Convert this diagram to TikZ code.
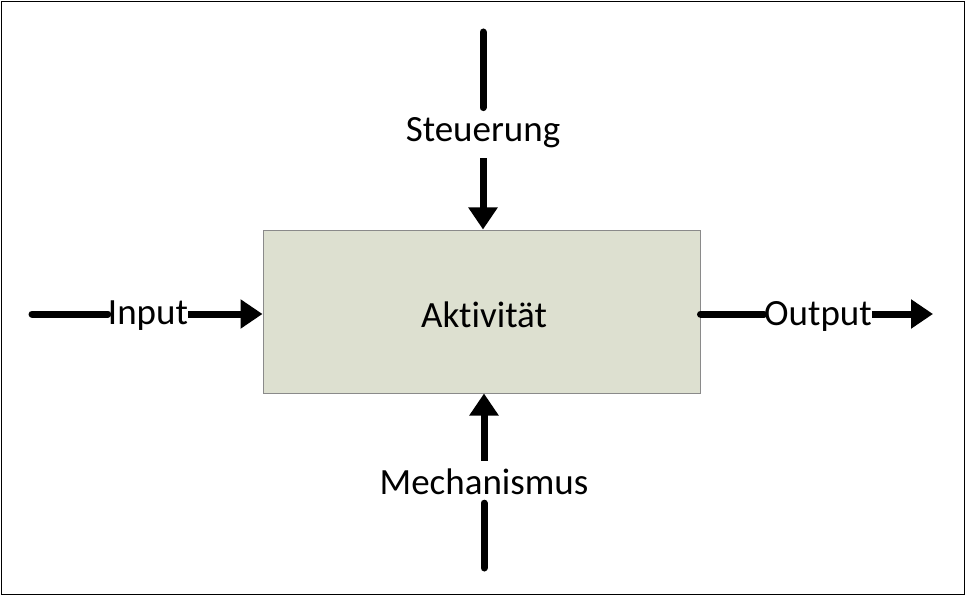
\documentclass[tikz,border=0pt]{standalone}
\usepackage{fontspec}
\setmainfont{Carlito}[Ligatures=NoCommon]
\usetikzlibrary{arrows.meta}
\definecolor{boxfill}{HTML}{DDE0D0}
\definecolor{boxline}{HTML}{8A8A8A}
\begin{document}
\begin{tikzpicture}[x=1pt,y=-1pt,
  lbl/.style={font=\fontsize{37}{40}\selectfont, inner sep=1pt},
  flow/.style={line width=7pt, line cap=round},
  flowarrow/.style={line width=7pt,-{Triangle[length=22pt,width=28pt]}}]
\useasboundingbox (0,0) rectangle (966,596);
\draw[line width=1pt] (1.5,1.5) rectangle (964.5,594.5);
\node[draw=boxline, fill=boxfill, line width=1pt, minimum width=437pt, minimum height=163pt, inner sep=0pt] (act) at (481.5,311.5) {};
\node[lbl] (acttext) at (484,315) {Akt\kern0ptivit\"at};
\node[lbl, inner ysep=10pt] (steu) at (483,133) {Steuerung};
\node[lbl, inner sep=0pt] (inp) at (148,316) {Input};
\node[lbl, inner sep=0pt] (outp) at (818,316) {Output};
\node[lbl, inner ysep=8pt] (mech) at (484,482) {Mechanismus};
\coordinate (steutop) at (483,32);
\coordinate (inleft) at (32,314);
\coordinate (outright) at (933,314);
\coordinate (mechbot) at (484,568);
\draw[flow] (steutop) -- (steu.north);
\draw[flowarrow] (steu.south) -- (act.north -| steu.south);
\draw[flow] (inleft) -- (inp.west |- inleft);
\draw[flowarrow] (inp.east |- inleft) -- (act.west |- inleft);
\draw[flow] (act.east |- outright) -- (outp.west |- outright);
\draw[flowarrow] (outp.east |- outright) -- (outright);
\draw[flow] (mechbot) -- (mech.south);
\draw[flowarrow] (mech.north) -- (act.south -| mech.north);
\end{tikzpicture}
\end{document}
